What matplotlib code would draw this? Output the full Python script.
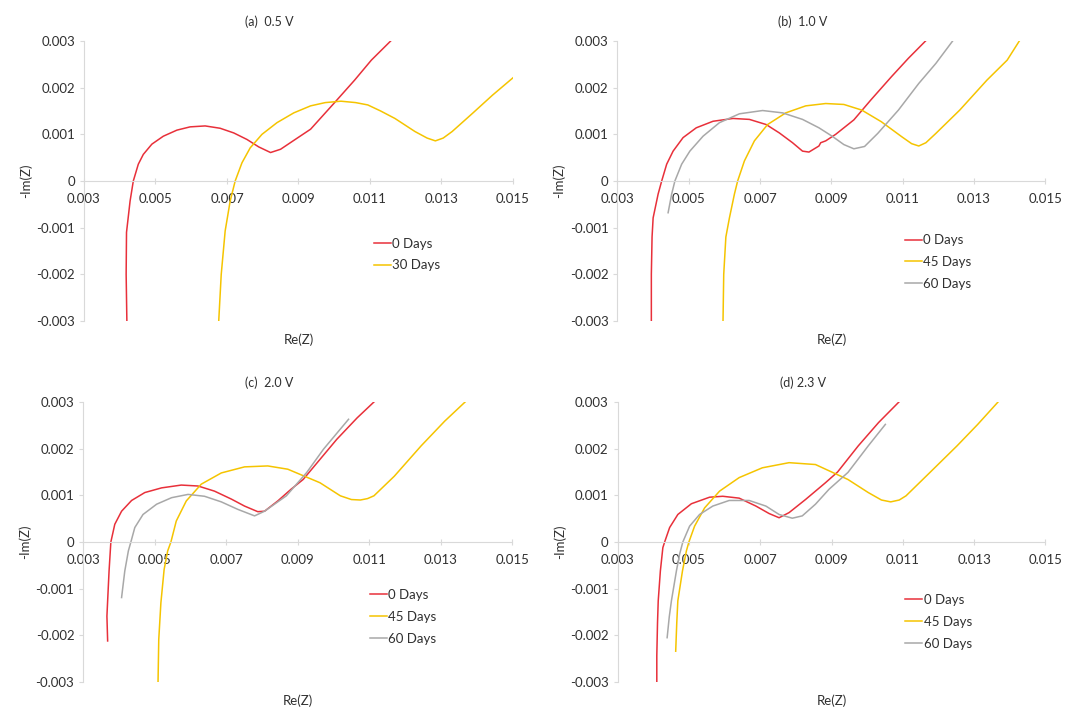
import matplotlib
matplotlib.use('Agg')
import matplotlib.pyplot as plt
from matplotlib.ticker import FuncFormatter

plt.rcParams['font.family'] = ['Lato', 'DejaVu Sans']

# Nyquist data: Re(Z) and -Im(Z)
# (a) 0.5 V
a_0d_re = [0.0042, 0.00418, 0.00419, 0.00429, 0.00438, 0.00452, 0.00466, 0.0049, 0.00522,
           0.0056, 0.00597, 0.00639, 0.00681, 0.00719, 0.00756, 0.00789, 0.00822, 0.0085,
           0.00887, 0.00934, 0.0100, 0.01057, 0.01104, 0.01158]
a_0d_im = [-0.003, -0.002, -0.0011, -0.00043, 0.0, 0.00036, 0.00057, 0.00079, 0.00096,
           0.00109, 0.00116, 0.00118, 0.00113, 0.00103, 0.00089, 0.00073, 0.00061, 0.00068,
           0.00087, 0.00111, 0.00167, 0.00216, 0.00259, 0.003]
a_30d_re = [0.00677, 0.00684, 0.00695, 0.00709, 0.00723, 0.00742, 0.00765, 0.00798, 0.0084,
            0.00887, 0.00934, 0.00975, 0.01019, 0.0106, 0.01094, 0.0113, 0.0117, 0.01226,
            0.0126, 0.01283, 0.01305, 0.0133, 0.01387, 0.01443, 0.015]
a_30d_im = [-0.003, -0.002, -0.00107, -0.00043, 0.0, 0.00039, 0.00071, 0.001, 0.00125,
            0.00146, 0.00161, 0.00168, 0.00171, 0.00168, 0.00163, 0.0015, 0.00134, 0.00106,
            0.00092, 0.00086, 0.00092, 0.00106, 0.00145, 0.00184, 0.00221]

# (b) 1.0 V
b_0d_re = [0.00395, 0.00395, 0.00397, 0.004, 0.00414, 0.00424, 0.00438, 0.00456, 0.00484,
           0.00521, 0.00568, 0.00624, 0.0067, 0.00717, 0.00754, 0.00791, 0.00819, 0.00837,
           0.00865, 0.0087, 0.00884, 0.00912, 0.00963, 0.01011, 0.01069, 0.01116, 0.01164]
b_0d_im = [-0.003, -0.002, -0.0012, -0.00079, -0.00028, 0.0, 0.00036, 0.00064, 0.00093,
           0.00114, 0.00128, 0.00134, 0.00132, 0.00121, 0.00103, 0.00082, 0.00064, 0.00062,
           0.00075, 0.00082, 0.00086, 0.001, 0.00131, 0.00174, 0.00224, 0.00263, 0.003]
b_45d_re = [0.00596, 0.00598, 0.00604, 0.00614, 0.00628, 0.00637, 0.00656, 0.00684, 0.00721,
            0.00772, 0.00828, 0.00884, 0.00935, 0.00985, 0.0104, 0.01097, 0.01125, 0.01145,
            0.01165, 0.01193, 0.0126, 0.01336, 0.01393, 0.01427]
b_45d_im = [-0.003, -0.002, -0.0012, -0.00079, -0.00028, 0.0, 0.00043, 0.00086, 0.00121,
            0.00146, 0.00161, 0.00166, 0.00164, 0.00152, 0.00127, 0.00095, 0.0008, 0.00075,
            0.00082, 0.00102, 0.00152, 0.00216, 0.00259, 0.003]
b_60d_re = [0.00442, 0.00452, 0.00461, 0.0048, 0.00503, 0.0054, 0.00586, 0.00642, 0.00707,
            0.00763, 0.00819, 0.00865, 0.00902, 0.00935, 0.00963, 0.00993, 0.0103, 0.01088,
            0.01145, 0.01193, 0.0124]
b_60d_im = [-0.00068, -0.00028, 0.0, 0.00036, 0.00064, 0.00096, 0.00125, 0.00144, 0.00151,
            0.00146, 0.00132, 0.00114, 0.00096, 0.00078, 0.00069, 0.00074, 0.00102, 0.00152,
            0.00209, 0.00252, 0.003]

# (c) 2.0 V
c_0d_re = [0.00368, 0.00366, 0.00368, 0.00372, 0.00377, 0.00388, 0.00407, 0.00435, 0.00472,
           0.00519, 0.00574, 0.00621, 0.00667, 0.00714, 0.00751, 0.00788, 0.00807, 0.00844,
           0.00881, 0.00915, 0.00962, 0.01009, 0.01066, 0.01113]
c_0d_im = [-0.00212, -0.00159, -0.00126, -0.00062, 0.0, 0.00038, 0.00066, 0.00089, 0.00106,
           0.00116, 0.00122, 0.0012, 0.00109, 0.00092, 0.00077, 0.00065, 0.00066, 0.00088,
           0.00113, 0.00134, 0.00177, 0.0022, 0.00266, 0.003]
c_45d_re = [0.00509, 0.00511, 0.00517, 0.00526, 0.00536, 0.00545, 0.0056, 0.00588,
            0.0063, 0.00686, 0.00751, 0.00816, 0.00872, 0.00962, 0.01019, 0.0105, 0.01075,
            0.01095, 0.01113, 0.0117, 0.01245, 0.01311, 0.01368]
c_45d_im = [-0.003, -0.00209, -0.0013, -0.00059, -0.00019, 0.0, 0.00045, 0.00088,
            0.00124, 0.00148, 0.00161, 0.00163, 0.00156, 0.00127, 0.00099, 0.00091, 0.0009,
            0.00093, 0.00099, 0.00141, 0.00206, 0.00259, 0.003]
c_60d_re = [0.00407, 0.00416, 0.00426, 0.00433, 0.00444, 0.00467, 0.00505, 0.00547, 0.00593,
            0.00639, 0.00686, 0.00732, 0.00779, 0.00807, 0.00868, 0.00925, 0.00972, 0.01042]
c_60d_im = [-0.00119, -0.00062, -0.00019, 0.0, 0.00031, 0.00059, 0.00081, 0.00095, 0.00102,
            0.00098, 0.00086, 0.0007, 0.00056, 0.00066, 0.00099, 0.00149, 0.00199, 0.00263]

# (d) 2.3 V
d_0d_re = [0.0041, 0.0041, 0.00412, 0.00414, 0.0042, 0.00427, 0.00432, 0.00446, 0.00469,
           0.00507, 0.00558, 0.00595, 0.00641, 0.00688, 0.00725, 0.00753, 0.00781, 0.00827,
           0.00883, 0.00917, 0.00975, 0.01032, 0.01089]
d_0d_im = [-0.003, -0.00244, -0.00173, -0.00126, -0.00062, -0.00012, 0.0, 0.00031, 0.00059,
           0.00082, 0.00096, 0.00098, 0.00094, 0.00077, 0.00061, 0.00052, 0.00063, 0.00091,
           0.00127, 0.0015, 0.00206, 0.00256, 0.003]
d_45d_re = [0.00463, 0.00466, 0.00469, 0.00482, 0.00493, 0.005, 0.00516, 0.00544, 0.00586,
            0.00641, 0.00706, 0.00781, 0.00855, 0.00946, 0.01003, 0.0104, 0.01066, 0.0109,
            0.01109, 0.01176, 0.01252, 0.0131, 0.01367]
d_45d_im = [-0.00234, -0.00173, -0.00126, -0.00062, -0.00019, 0.0, 0.00034, 0.00073, 0.00109,
            0.00138, 0.00159, 0.0017, 0.00166, 0.00134, 0.00106, 0.0009, 0.00086, 0.0009,
            0.00099, 0.00149, 0.00206, 0.00252, 0.003]
d_60d_re = [0.00439, 0.00445, 0.00451, 0.00465, 0.00474, 0.00483, 0.00502, 0.0053, 0.00567,
            0.00613, 0.00669, 0.00716, 0.00753, 0.0079, 0.00818, 0.00855, 0.00893, 0.00946,
            0.01003, 0.01051]
d_60d_im = [-0.00205, -0.0016, -0.00126, -0.00062, -0.00026, 0.0, 0.00034, 0.00059, 0.00077,
            0.00089, 0.00089, 0.00077, 0.00059, 0.00051, 0.00056, 0.00081, 0.00113, 0.00149,
            0.00206, 0.00252]

titles = ['(a)  0.5 V', '(b)  1.0 V', '(c)  2.0 V', '(d) 2.3 V']
red = '#E8303A'
yellow = '#F5C400'
gray = '#A8A8A8'
axis_col = '#D9D9D9'
text_col = '#303030'

panels = [
    [(a_0d_re, a_0d_im, '0 Days', red), (a_30d_re, a_30d_im, '30 Days', yellow)],
    [(b_0d_re, b_0d_im, '0 Days', red), (b_45d_re, b_45d_im, '45 Days', yellow),
     (b_60d_re, b_60d_im, '60 Days', gray)],
    [(c_0d_re, c_0d_im, '0 Days', red), (c_45d_re, c_45d_im, '45 Days', yellow),
     (c_60d_re, c_60d_im, '60 Days', gray)],
    [(d_0d_re, d_0d_im, '0 Days', red), (d_45d_re, d_45d_im, '45 Days', yellow),
     (d_60d_re, d_60d_im, '60 Days', gray)],
]

# axes boxes in figure fraction [left, bottom, width, height]
boxes = [[0.0787, 0.5466, 0.4020, 0.3955],
         [0.5787, 0.5466, 0.4010, 0.3955],
         [0.0781, 0.0367, 0.4020, 0.3955],
         [0.5788, 0.0367, 0.4010, 0.3955]]
legend_pos = [(0.675, 0.298), (0.672, 0.31), (0.668, 0.333), (0.672, 0.315)]


def fmt(v, pos):
    if abs(v) < 1e-9:
        return '0'
    return f'{v:.3f}'


fig = plt.figure(figsize=(10.67, 7.08), dpi=100)

for i, series in enumerate(panels):
    ax = fig.add_axes(boxes[i])
    for re, im, lab, col in series:
        ax.plot(re, im, color=col, lw=1.1, label=lab, solid_joinstyle='round')

    ax.set_xlim(0.003, 0.015)
    ax.set_ylim(-0.003, 0.003)
    ax.set_xticks([0.003, 0.005, 0.007, 0.009, 0.011, 0.013, 0.015])
    ax.set_yticks([-0.003, -0.002, -0.001, 0, 0.001, 0.002, 0.003])
    ax.xaxis.set_major_formatter(FuncFormatter(fmt))
    ax.yaxis.set_major_formatter(FuncFormatter(fmt))

    ax.spines['top'].set_visible(False)
    ax.spines['right'].set_visible(False)
    ax.spines['bottom'].set_position(('data', 0))
    ax.spines['bottom'].set_color(axis_col)
    ax.spines['left'].set_color(axis_col)
    ax.tick_params(axis='both', colors=axis_col, labelcolor=text_col,
                   labelsize=9.5, length=3, width=0.8)
    ax.tick_params(axis='x', direction='inout', length=4, pad=6.5)
    ax.patch.set_alpha(0)

    ax.set_ylabel('-Im(Z)', fontsize=9.5, color=text_col, labelpad=3)
    ax.text(0.5, -0.068, 'Re(Z)', transform=ax.transAxes, ha='center', va='center',
            fontsize=9.5, color=text_col)
    ax.set_title(titles[i], x=0.433, fontsize=9, color=text_col, pad=11)

    ax.legend(loc='upper left', bbox_to_anchor=legend_pos[i], frameon=False,
              fontsize=9.5, handlelength=1.3, handletextpad=0.1,
              labelspacing=0.75, borderpad=0, borderaxespad=0,
              labelcolor=text_col)

fig.savefig('out.png', dpi=100)
